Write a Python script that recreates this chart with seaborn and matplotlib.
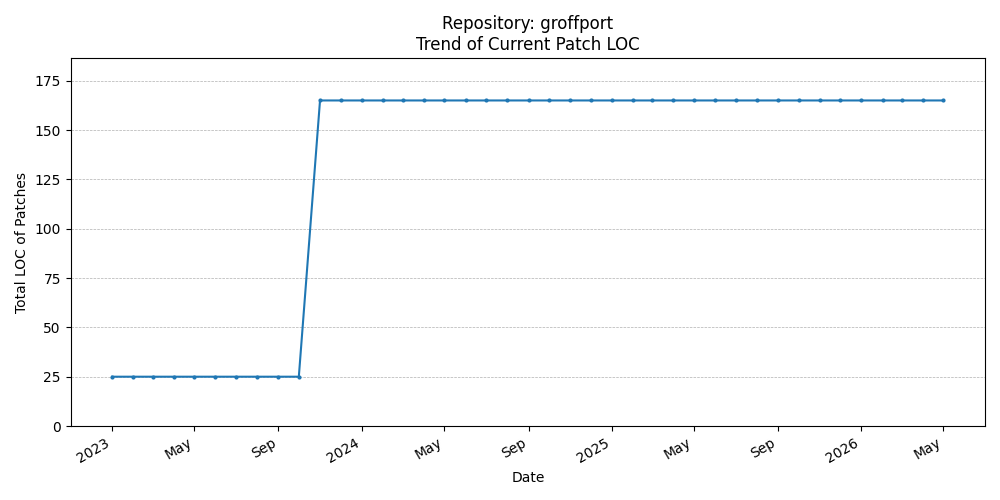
import pandas as pd
import seaborn as sns
import matplotlib
matplotlib.use("Agg")
import matplotlib.pyplot as plt
import matplotlib.dates as mdates

# monthly snapshots, Jan 2023 .. May 2026
months = pd.date_range("2023-01-01", "2026-05-01", freq="MS")
loc_values = [25] * 10 + [165] * 31

df = pd.DataFrame({"Date": months, "LOC": loc_values})

fig, ax = plt.subplots(figsize=(10, 5), dpi=100)
sns.lineplot(data=df, x="Date", y="LOC", marker="o", markersize=3,
             markeredgewidth=0, color="#1f77b4", ax=ax)

ax.set_ylim(0, max(loc_values) * 1.13)
ax.grid(axis="y", linestyle="--", linewidth=0.5)
ax.set_title("Repository: groffport\nTrend of Current Patch LOC")
ax.set_xlabel("Date")
ax.set_ylabel("Total LOC of Patches")

locator = mdates.AutoDateLocator()
ax.xaxis.set_major_locator(locator)
ax.xaxis.set_major_formatter(mdates.ConciseDateFormatter(locator))
fig.autofmt_xdate()

plt.tight_layout()
plt.savefig("out.png")
